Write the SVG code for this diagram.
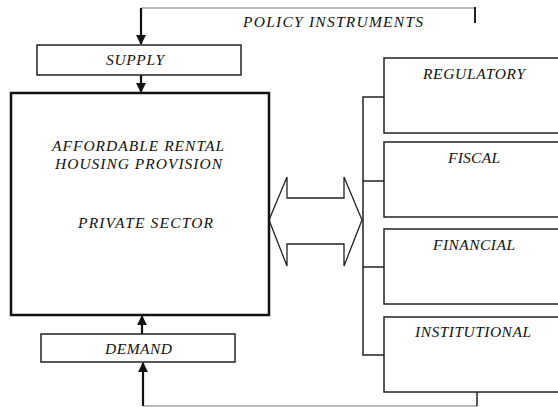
<svg xmlns="http://www.w3.org/2000/svg" width="558" height="407" viewBox="0 0 558 407">
<style>
text{font-family:"Liberation Serif","Times New Roman",serif;font-style:italic;font-size:15.5px;fill:#111}
.box{fill:#fff;stroke:#222;stroke-width:1.5}
.main{fill:#fff;stroke:#111;stroke-width:2.5}
.ln{fill:none;stroke:#222;stroke-width:1.5}
.thin{fill:none;stroke:#777;stroke-width:1}
.arr{fill:none;stroke:#111;stroke-width:2.2}
</style>
<defs>
<marker id="ah" viewBox="0 0 10 10" refX="9" refY="5" markerWidth="4.5" markerHeight="4.5" orient="auto" markerUnits="strokeWidth">
<path d="M0,0 L10,5 L0,10 z" fill="#111"/>
</marker>
</defs>
<g id="connectors">
<polyline class="thin" points="141,8 475,8"/>
<line x1="475" y1="7" x2="475" y2="23" stroke="#222" stroke-width="2"/>
<line class="arr" x1="141" y1="8" x2="141" y2="44" marker-end="url(#ah)"/>
<line class="arr" x1="141" y1="75" x2="141" y2="92" marker-end="url(#ah)"/>
<line class="arr" x1="142" y1="334" x2="142" y2="316" marker-end="url(#ah)"/>
<line class="arr" x1="143" y1="406" x2="143" y2="363" marker-end="url(#ah)"/>
<polyline class="thin" points="143,406 477,406"/>
<line x1="477" y1="392" x2="477" y2="406" stroke="#222" stroke-width="1.5"/>
<polyline class="ln" points="384,97 363,97 363,355 384,355"/>
<line class="ln" x1="363" y1="181" x2="384" y2="181"/>
<line class="ln" x1="363" y1="267" x2="384" y2="267"/>
<polygon points="269,220 287,177 287,198 344,198 344,177 362,220 344,266 344,244 287,244 287,266" fill="#fff" stroke="#222" stroke-width="1.3"/>
</g>
<g id="policy"><text x="243" y="27" textLength="180" lengthAdjust="spacing">POLICY INSTRUMENTS</text></g>
<g id="supply">
<rect class="box" x="37" y="45" width="204" height="30"/>
<text x="106" y="65" textLength="58" lengthAdjust="spacing">SUPPLY</text>
</g>
<g id="provision">
<rect class="main" x="11" y="93" width="258" height="222"/>
<text x="52" y="151" textLength="172" lengthAdjust="spacing">AFFORDABLE RENTAL</text>
<text x="55" y="169" textLength="167" lengthAdjust="spacing">HOUSING PROVISION</text>
<text x="78" y="228" textLength="135" lengthAdjust="spacing">PRIVATE SECTOR</text>
</g>
<g id="demand">
<rect class="box" x="41" y="334" width="194" height="28"/>
<text x="105" y="354" textLength="67" lengthAdjust="spacing">DEMAND</text>
</g>
<g id="regulatory">
<rect class="box" x="384" y="58" width="180" height="75"/>
<text x="423" y="79" textLength="102" lengthAdjust="spacing">REGULATORY</text>
</g>
<g id="fiscal">
<rect class="box" x="384" y="142" width="180" height="75"/>
<text x="448" y="163" textLength="52" lengthAdjust="spacing">FISCAL</text>
</g>
<g id="financial">
<rect class="box" x="384" y="229" width="180" height="75"/>
<text x="433" y="250" textLength="82" lengthAdjust="spacing">FINANCIAL</text>
</g>
<g id="institutional">
<rect class="box" x="384" y="317" width="180" height="75"/>
<text x="415" y="337" textLength="116" lengthAdjust="spacing">INSTITUTIONAL</text>
</g>
</svg>
